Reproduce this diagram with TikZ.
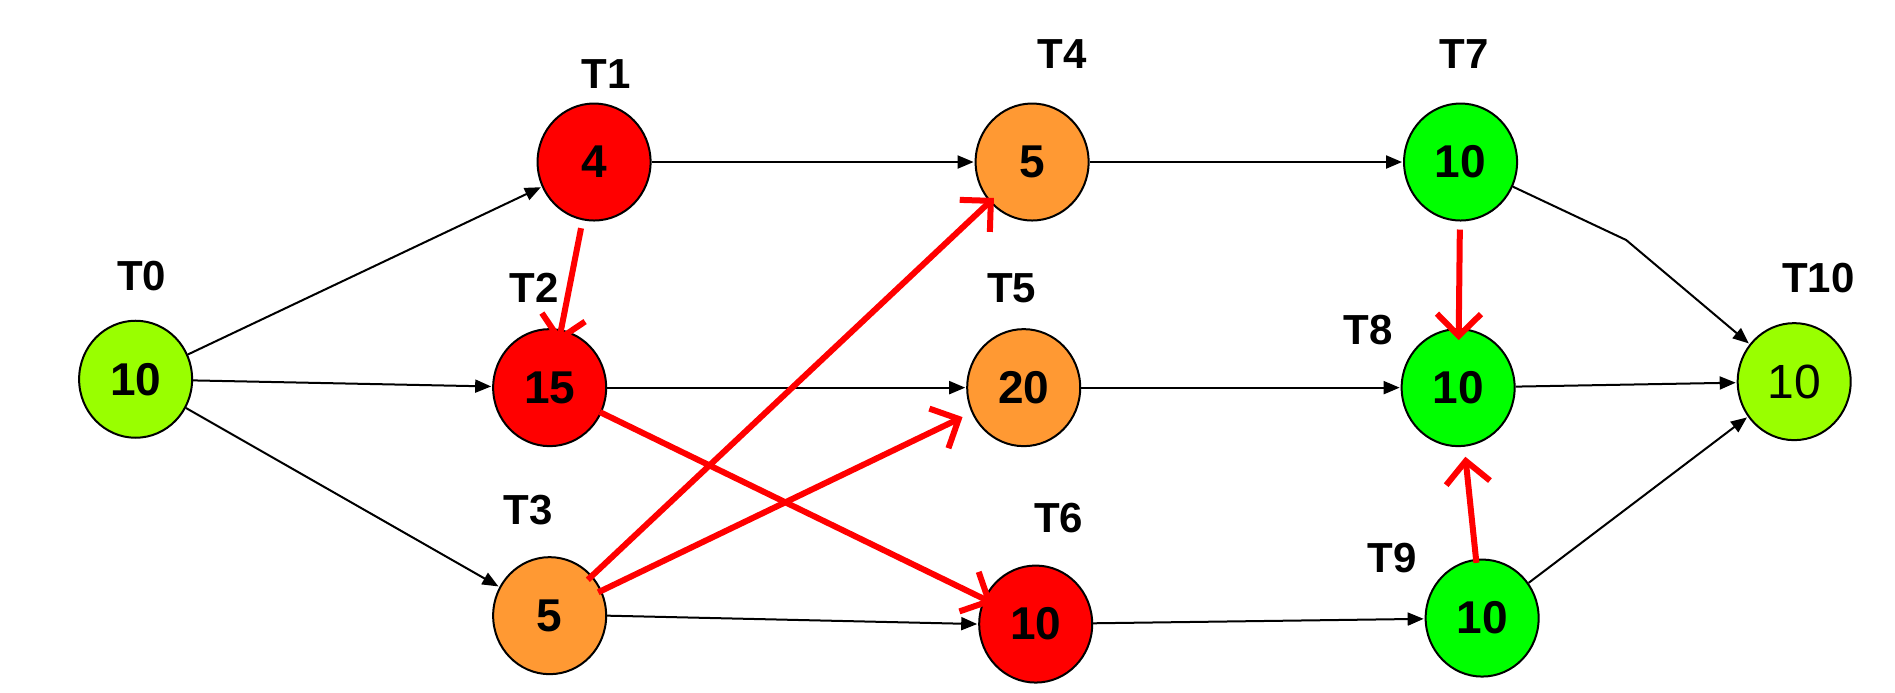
\documentclass[tikz,border=0pt]{standalone}
\usepackage{fontspec}
\setmainfont{Liberation Sans}
\usetikzlibrary{arrows.meta,shapes.geometric}
\definecolor{lg}{HTML}{99FF00}
\definecolor{rd}{HTML}{FF0000}
\definecolor{og}{HTML}{FF9933}
\definecolor{gn}{HTML}{00FF00}
\tikzset{
 task/.style={ellipse,draw=black,line width=2pt,minimum width=113pt,minimum height=117pt,inner sep=0pt,font=\fontsize{46}{46}\selectfont\bfseries},
 lbl/.style={font=\fontsize{42}{42}\selectfont\bfseries},
 blk/.style={line width=2pt,-{Triangle[length=16pt,width=13pt]},shorten >=1pt},
 rar/.style={rd,line width=6pt,-{Straight Barb[length=22pt,width=44pt,line width=6pt]}},
}
\begin{document}
\begin{tikzpicture}[x=1.2pt,y=-1.2pt]
\useasboundingbox (0,0) rectangle (1579,577);
\node[task,fill=lg] (t0) at (113,316) {10};
\node[task,fill=rd] (t1) at (495,135) {4};
\node[task,fill=rd] (t2) at (458,323) {15};
\node[task,fill=og] (t3) at (458,513) {5};
\node[task,fill=og] (t4) at (860,135) {5};
\node[task,fill=og] (t5) at (853,323) {20};
\node[task,fill=rd] (t6) at (863,520) {10};
\node[task,fill=gn] (t7) at (1217,135) {10};
\node[task,fill=gn] (t8) at (1215,323) {10};
\node[task,fill=gn] (t9) at (1235,515) {10};
\node[task,fill=lg,font=\fontsize{48}{48}\selectfont] (t10) at (1495,318) {10};
\node[lbl] (l0) at (118,230) {T0};
\node[lbl] (l1) at (505,62) {T1};
\node[lbl] (l2) at (445,240) {T2};
\node[lbl] (l3) at (440,425) {T3};
\node[lbl] (l4) at (885,45) {T4};
\node[lbl] (l5) at (843,240) {T5};
\node[lbl] (l6) at (882,432) {T6};
\node[lbl] (l7) at (1220,45) {T7};
\node[lbl] (l8) at (1140,275) {T8};
\node[lbl] (l9) at (1160,465) {T9};
\node[lbl] (l10) at (1515,232) {T10};
\draw[blk] (t0) -- (t1);
\draw[blk] (t0) -- (t2);
\draw[blk] (t0) -- (t3);
\draw[blk] (t1) -- (t4);
\draw[blk] (t2) -- (t5);
\draw[blk] (t3.east) -- (t6.west);
\draw[blk] (t4) -- (t7);
\draw[blk] (t5) -- (t8);
\draw[blk] (t6) -- (t9);
\coordinate (bend) at (1355,200);
\draw[blk] (t7) -- (bend) -- (t10);
\draw[blk] (t8) -- (t10);
\draw[blk] (t9) -- (t10);
\draw[rar,shorten <=8pt,shorten >=-14pt] (t1) -- (t2);
\draw[rar,shorten <=-2pt,shorten >=-10pt] (t2) -- (t6);
\draw[rar,shorten <=-6pt,shorten >=-6pt] (t3) -- (t4);
\draw[rar,shorten <=-4pt,shorten >=10pt] (t3) -- (t5);
\draw[rar,shorten <=8pt,shorten >=-12pt] (t7) -- (t8);
\draw[rar,shorten <=-4pt,shorten >=10pt] (t9) -- (t8);
\end{tikzpicture}
\end{document}
